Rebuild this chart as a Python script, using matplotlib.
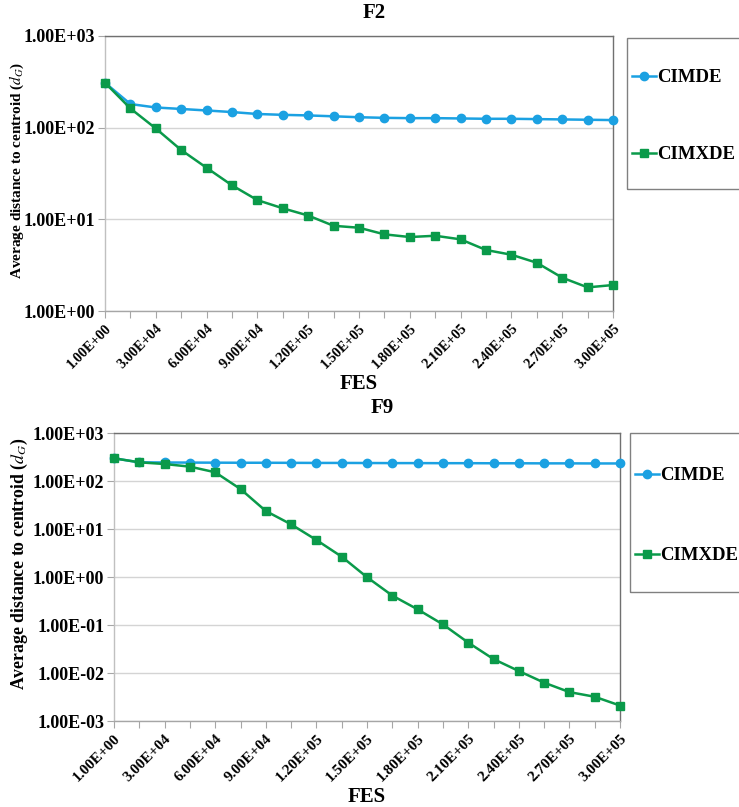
import matplotlib
matplotlib.use("Agg")
import matplotlib.pyplot as plt
import matplotlib.ticker as mticker
from matplotlib.patches import Rectangle
import numpy as np

# FES checkpoints (category axis, 21 points every 1.5E+04)
fes_labels = ["1.00E+00", "3.00E+04", "6.00E+04", "9.00E+04", "1.20E+05", "1.50E+05",
              "1.80E+05", "2.10E+05", "2.40E+05", "2.70E+05", "3.00E+05"]
n_points = 21

# F2
f2_cimde = [309, 181, 166, 160, 154, 148, 141, 138, 136, 133, 130,
            128, 127, 127, 126, 125, 125, 124, 123, 122, 121]
f2_cimxde = [309, 162, 98, 57, 36.5, 23.5, 16.2, 13.2, 11.0, 8.5, 8.1,
             6.86, 6.41, 6.62, 6.05, 4.63, 4.11, 3.36, 2.31, 1.81, 1.92]

# F9
f9_cimde = [297, 245, 243, 242, 241, 240, 240, 239, 238, 238, 237,
            236, 236, 235, 235, 234, 234, 233, 233, 232, 232]
f9_cimxde = [297, 245, 226, 199, 152, 68, 23.7, 12.5, 5.9, 2.65, 0.99,
             0.41, 0.212, 0.103, 0.043, 0.0195, 0.011, 0.0063, 0.0040, 0.0032, 0.0021]

BLUE = "#1BA1E2"
GREEN = "#0A9A4A"
FONT = "Liberation Serif"

plt.rcParams["font.family"] = FONT
plt.rcParams["mathtext.fontset"] = "stix"

W, H = 739, 807
fig = plt.figure(figsize=(W / 100, H / 100), dpi=100)


def fig_rect(left, top, right, bottom):
    return [left / W, 1 - bottom / H, (right - left) / W, (bottom - top) / H]


def sci_fmt(v, _pos):
    return f"{v:.2E}"


def draw_panel(rect, title, cimde, cimxde, ymin, ymax, title_xy, fes_xy,
               ylab_xy, ylab_size, xtick_size, frame_box, legend_anchor):
    ax = fig.add_axes(fig_rect(*rect))
    x = np.arange(n_points)
    ax.plot(x, cimde, color=BLUE, lw=1.8, marker="o", ms=6, label="CIMDE",
            clip_on=False, zorder=3)
    ax.plot(x, cimxde, color=GREEN, lw=1.8, marker="s", ms=6, label="CIMXDE",
            clip_on=False, zorder=4)
    ax.set_yscale("log")
    ax.set_ylim(ymin, ymax)
    ax.set_xlim(0, n_points - 1)

    decades = [10.0 ** k for k in range(int(np.log10(ymin)), int(np.log10(ymax)) + 1)]
    ax.yaxis.set_major_locator(mticker.FixedLocator(decades))
    ax.yaxis.set_minor_locator(mticker.NullLocator())
    ax.yaxis.set_major_formatter(mticker.FuncFormatter(sci_fmt))
    ax.grid(axis="y", color="#d4d4d4", lw=1.0)
    ax.set_axisbelow(True)

    ax.set_xticks(x)
    ax.set_xticklabels([fes_labels[i // 2] if i % 2 == 0 else "" for i in x])
    for lab in ax.get_xticklabels():
        lab.set_rotation(45)
        lab.set_ha("right")
        lab.set_va("top")
        lab.set_rotation_mode("anchor")
        lab.set_fontweight("bold")
        lab.set_fontsize(xtick_size)
    for lab in ax.get_yticklabels():
        lab.set_fontweight("bold")
        lab.set_fontsize(13)

    ax.tick_params(axis="x", direction="out", length=5, color="#a6a6a6", pad=3)
    ax.tick_params(axis="y", direction="out", length=5, color="#a6a6a6", pad=2)
    ax.spines["left"].set_color("#c0c0c0")
    ax.spines["bottom"].set_color("#a6a6a6")
    ax.spines["top"].set_color("#707070")
    ax.spines["right"].set_color("#707070")
    for sp in ax.spines.values():
        sp.set_linewidth(1.0)

    fig.text(ylab_xy[0] / W, 1 - ylab_xy[1] / H,
             r"Average distance to centroid ($d_G$)", rotation=90,
             ha="center", va="center", fontsize=ylab_size, fontweight="bold")
    fig.text(title_xy[0] / W, 1 - title_xy[1] / H, title, ha="center", va="center",
             fontsize=15, fontweight="bold")
    fig.text(fes_xy[0] / W, 1 - fes_xy[1] / H, "FES", ha="center", va="center",
             fontsize=15, fontweight="bold")

    fl, ft, fr, fb = frame_box
    fig.patches.append(Rectangle((fl / W, 1 - fb / H), (fr - fl) / W, (fb - ft) / H,
                                 transform=fig.transFigure, fill=False,
                                 edgecolor="#808080", lw=1.0))
    ax.legend(loc="upper left",
              bbox_to_anchor=(legend_anchor[0] / W, 1 - legend_anchor[1] / H),
              bbox_transform=fig.transFigure, frameon=False,
              prop={"family": FONT, "weight": "bold", "size": 13.5},
              labelspacing=legend_anchor[2], borderpad=0, handlelength=1.3,
              handletextpad=0.05, borderaxespad=0)
    return ax


draw_panel((105, 36, 613, 311), "F2", f2_cimde, f2_cimxde, 1, 1000,
           title_xy=(374, 13), fes_xy=(359, 384), ylab_xy=(17, 170), ylab_size=11,
           xtick_size=10.3, frame_box=(627, 38, 760, 189), legend_anchor=(632, 69, 3.2))
draw_panel((114, 433, 620, 721), "F9", f9_cimde, f9_cimxde, 1e-3, 1000,
           title_xy=(382, 408), fes_xy=(367, 797), ylab_xy=(19, 564), ylab_size=12.8,
           xtick_size=11, frame_box=(630, 433, 760, 592), legend_anchor=(635, 467, 3.35))

fig.savefig("out.png", dpi=100)
